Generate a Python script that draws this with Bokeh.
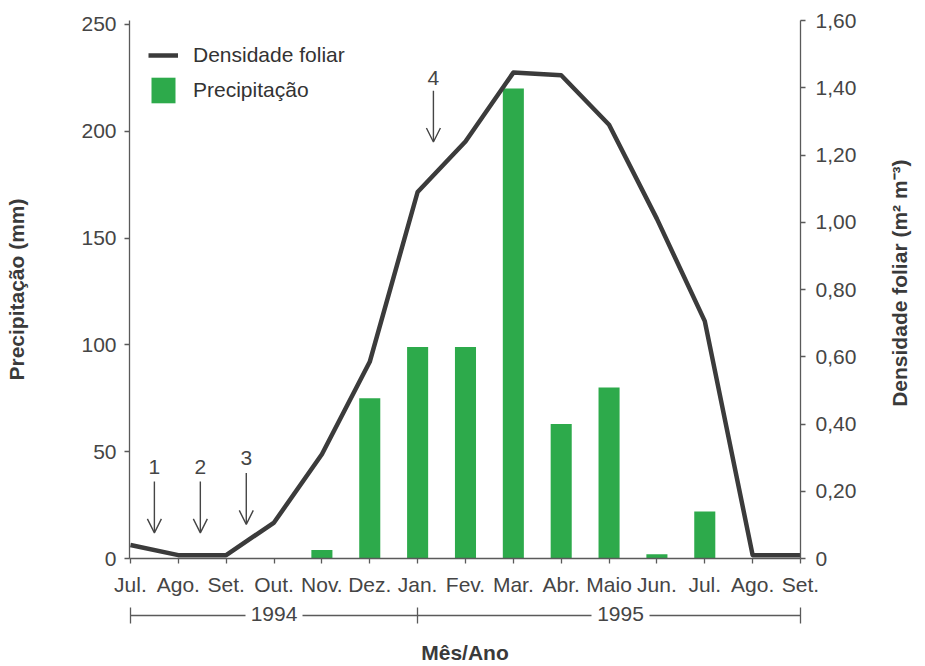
import math
from bokeh.plotting import figure
from bokeh.models import (Range1d, LinearAxis, FixedTicker, CustomJSTickFormatter,
                          Legend, LegendItem, Arrow, OpenHead, Label, ColumnDataSource)
from bokeh.embed import file_html
from bokeh.resources import INLINE

# ---------------- data ----------------
months = ["Jul.", "Ago.", "Set.", "Out.", "Nov.", "Dez.", "Jan.", "Fev.",
          "Mar.", "Abr.", "Maio", "Jun.", "Jul.", "Ago.", "Set."]
precip_mm = [0, 0, 0, 0, 4, 75, 99, 99, 220, 63, 80, 2, 22, 0, 0]
leaf_density = [0.04, 0.01, 0.01, 0.107, 0.31, 0.585, 1.09, 1.24, 1.445,
                1.437, 1.29, 1.01, 0.706, 0.01, 0.01]

left_ticks = [0, 50, 100, 150, 200, 250]
right_ticks = [0, 0.2, 0.4, 0.6, 0.8, 1.0, 1.2, 1.4, 1.6]
right_tick_labels = ["0", "0,20", "0,40", "0,60", "0,80", "1,00", "1,20", "1,40", "1,60"]

years = ["1994", "1995"]
year_start = [0, 6]
year_end = [6, 14]
year_label_x = [3.0, 10.24]

events = ["1", "2", "3", "4"]
event_x = [0.50, 1.46, 2.42, 6.33]
event_top = [36, 36, 40, 219]
event_tip = [12, 12, 16, 195]
event_label_y = [43, 43, 47, 225]

# ---------------- style / layout constants ----------------
FONT = "Liberation Sans"
TXT = "#454545"
AXC = "#5a5a5a"
GREEN = "#2daa4b"
LINEC = "#3b3b3b"
FS = "21px"
LEFT_MAX = 251.87      # left range top (mm) aligned with right range top
RIGHT_MAX = 1.6
GAP = 0.6              # half width of the gap in the bracket around year labels

x = list(range(len(months)))
src = ColumnDataSource(dict(x=x, precip=precip_mm, dens=leaf_density))

p = figure(width=925, height=666, output_backend="svg", toolbar_location=None,
           x_range=Range1d(-0.02, 14.0), y_range=Range1d(0, LEFT_MAX),
           x_axis_type=None, y_axis_type=None,
           min_border_left=129, min_border_right=125, min_border_top=20,
           min_border_bottom=107)
p.extra_y_ranges = {"right": Range1d(0, RIGHT_MAX)}
p.outline_line_color = None
p.background_fill_color = "white"


def style_axis(ax):
    ax.axis_line_color = AXC
    ax.axis_line_width = 1.3
    ax.major_tick_line_color = AXC
    ax.major_tick_line_width = 1.3
    ax.minor_tick_line_color = None
    ax.major_tick_in = 0
    ax.major_tick_out = 5
    ax.major_label_text_font = FONT
    ax.major_label_text_font_size = FS
    ax.major_label_text_color = TXT
    ax.axis_label_text_font = FONT
    ax.axis_label_text_font_size = FS
    ax.axis_label_text_font_style = "bold"
    ax.axis_label_text_color = "#3a3a3a"


empty_fmt = CustomJSTickFormatter(code="return '';")

# left axis
yl = LinearAxis(ticker=FixedTicker(ticks=left_ticks), axis_label="Precipitação (mm)")
style_axis(yl)
yl.major_label_standoff = 8
yl.axis_label_standoff = 50
p.add_layout(yl, "left")

# right axis
right_title = "Densidade foliar (m² m⁻³)"
yr = LinearAxis(y_range_name="right", ticker=FixedTicker(ticks=right_ticks),
                formatter=CustomJSTickFormatter(
                    args=dict(rvals=right_ticks, rlabs=right_tick_labels),
                    code="const i = rvals.findIndex(t => Math.abs(t - tick) < 1e-9); return i >= 0 ? rlabs[i] : '';"))
style_axis(yr)
yr.major_label_standoff = 10
yr.axis_label_standoff = 40
yr.axis_label_orientation = math.pi / 2
try:
    yr.axis_label_align = "start"
    yr.axis_label = "\u00a0" * 26 + right_title
except Exception:
    yr.axis_label = right_title
p.add_layout(yr, "right")

# bottom axis with months (+ spacer label)
xb = LinearAxis(ticker=FixedTicker(ticks=x),
                formatter=CustomJSTickFormatter(args=dict(mlabs=months),
                                                code="return mlabs[Math.round(tick)] || '';"),
                axis_label="\u00a0")
style_axis(xb)
xb.major_label_standoff = 9
xb.axis_label_text_font_size = "10px"
xb.axis_label_standoff = 3
p.add_layout(xb, "below")

# year bracket: line segments (zero-height axes stacked at the same level)
bracket_ticks = sorted(set(year_start + year_end))
edges = [bracket_ticks[0]]
for xl in year_label_x:
    edges += [xl - GAP, xl + GAP]
edges.append(bracket_ticks[-1])
for a, b in zip(edges[0::2], edges[1::2]):
    seg = LinearAxis(bounds=(a, b), ticker=FixedTicker(ticks=[], minor_ticks=[]),
                     formatter=empty_fmt)
    style_axis(seg)
    seg.major_tick_out = 0
    seg.major_label_text_font_size = "0px"
    seg.major_label_standoff = 0
    p.add_layout(seg, "below")

# bracket ticks (crossing the line)
bt = LinearAxis(ticker=FixedTicker(ticks=bracket_ticks, minor_ticks=[]), formatter=empty_fmt)
style_axis(bt)
bt.axis_line_color = None
bt.major_tick_in = 8
bt.major_tick_out = 8
bt.major_label_text_font_size = "0px"
bt.major_label_standoff = 0
p.add_layout(bt, "below")

# year labels sitting in the bracket gaps, plus the "Mês/Ano" title
ya = LinearAxis(ticker=FixedTicker(ticks=year_label_x, minor_ticks=[]),
                formatter=CustomJSTickFormatter(
                    args=dict(ypos=year_label_x, ylabs=years),
                    code="const i = ypos.findIndex(t => Math.abs(t - tick) < 1e-9); return i >= 0 ? ylabs[i] : '';"),
                axis_label="Mês/Ano")
style_axis(ya)
ya.axis_line_color = None
ya.major_tick_line_color = None
ya.major_tick_out = 0
ya.major_label_standoff = -17
ya.axis_label_standoff = 17
p.add_layout(ya, "below")

# glyphs
bars = p.vbar(x="x", top="precip", width=0.44, source=src,
              fill_color=GREEN, line_color=None)
line = p.line(x="x", y="dens", source=src, y_range_name="right",
              line_color=LINEC, line_width=4.5, line_join="round")

legend = Legend(items=[LegendItem(label="Densidade foliar", renderers=[line]),
                       LegendItem(label="Precipitação", renderers=[bars])],
                location="top_left", margin=19, padding=0,
                glyph_width=30, glyph_height=32, label_height=32, spacing=3,
                label_standoff=15, label_text_font=FONT, label_text_font_size=FS,
                label_text_color="#333333", background_fill_alpha=0,
                border_line_color=None)
p.add_layout(legend)

# event arrows
for name, xe, yt, yb, ylab in zip(events, event_x, event_top, event_tip, event_label_y):
    p.add_layout(Arrow(end=OpenHead(size=14, line_width=1.4, line_color=TXT),
                       x_start=xe, y_start=yt, x_end=xe, y_end=yb,
                       line_width=1.4, line_color=TXT))
    p.add_layout(Label(x=xe, y=ylab, text=name, text_align="center",
                       text_baseline="middle", text_font=FONT, text_font_size=FS,
                       text_color=TXT))

open("out.html", "w").write(file_html(p, INLINE))
